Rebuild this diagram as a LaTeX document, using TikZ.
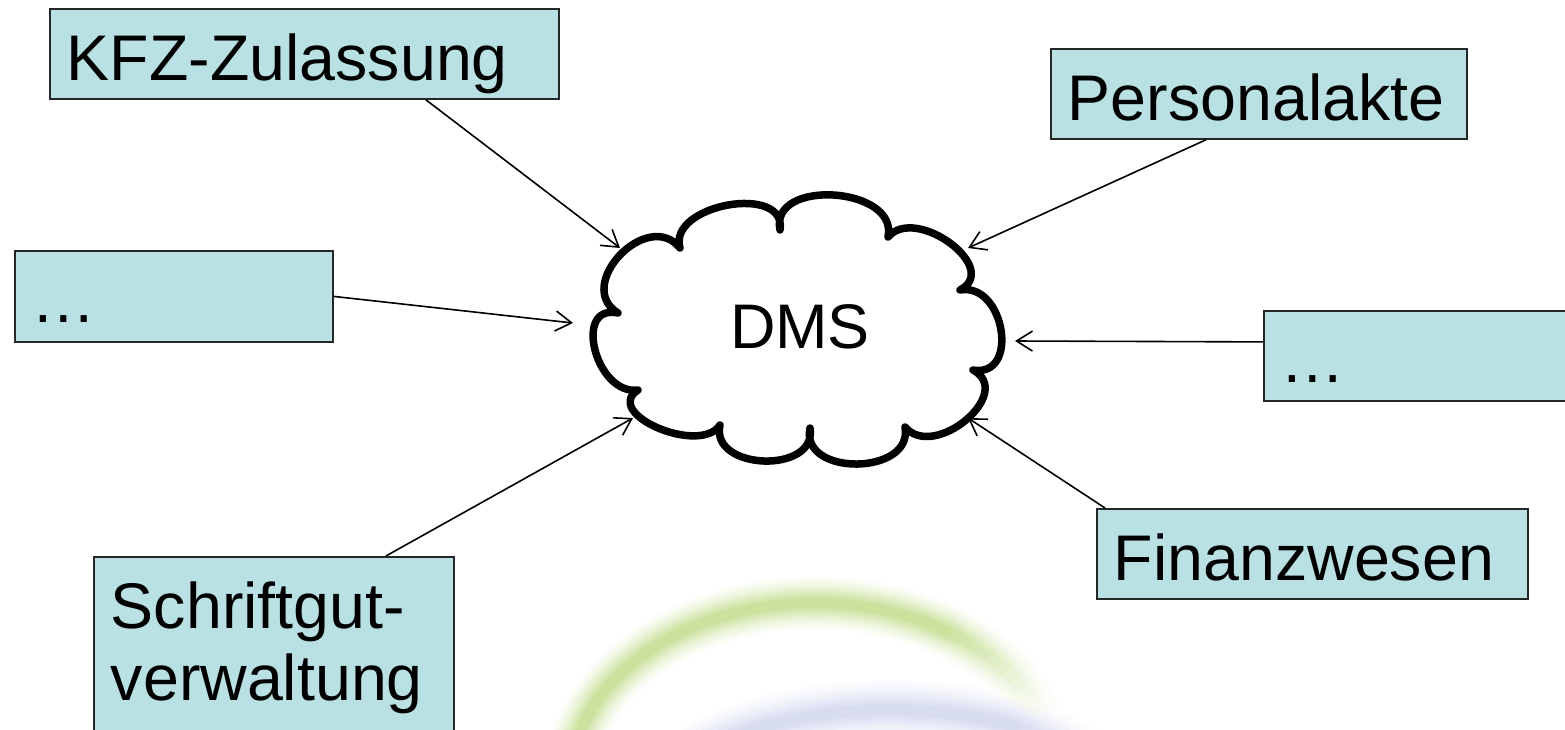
\documentclass[tikz,border=0pt]{standalone}
\usepackage{fontspec}
\setmainfont{Liberation Sans}
\usetikzlibrary{arrows.meta}
\definecolor{boxfill}{RGB}{185,224,227}
\definecolor{wmG}{RGB}{203,226,158}
\definecolor{wmB}{RGB}{216,220,240}
\begin{document}
\begin{tikzpicture}[x=1pt,y=-1pt,
  box/.style={draw=black!85, line width=1.8pt, fill=boxfill, anchor=north west,
    inner xsep=17pt, inner ysep=0pt, align=left,
    font=\fontsize{64.5}{72}\selectfont, text height=72pt, text depth=18pt},
  conn/.style={draw=black, line width=1.6pt, -{Straight Barb[length=16pt,width=20pt]}},
  cloudline/.style={draw=black, line width=7.5pt, line join=round, fill=white},
]
\useasboundingbox (0,0) rectangle (1565,729);
\clip (0,0) rectangle (1565,729);
\fill[white] (0,0) rectangle (1565,729);
% watermark (soft arcs)
\begin{scope}[blend mode=darken]
\foreach \w/\m in {60/8,53/16,46/27,39/40,32/55,25/70,18/86,11/100} {
  \foreach \a in {214,217,...,326} {
    \pgfmathtruncatemacro\f{\a>298 ? max(0,\m*(330-\a)/32) : \m}
    \ifnum\f>0
    \draw[line width=\w pt, wmB!\f!white] plot[domain=\a:\a+3.6, samples=3, smooth] ({890+250*cos(\x)},{832+122*sin(\x)});
    \fi
  }
}
\foreach \w/\m in {52/8,46/16,40/27,34/40,28/55,22/70,16/86,10/100} {
  \foreach \a in {186,189,...,340} {
    \pgfmathtruncatemacro\f{\a>300 ? max(0,\m*(338-\a)/38) : \m}
    \ifnum\f>0
    \draw[line width=\w pt, wmG!\f!white] plot[domain=\a:\a+3.6, samples=3, smooth] ({815+245*cos(\x)},{783+180*sin(\x)});
    \fi
  }
}
\end{scope}
% boxes
\node[box, text width=475pt] (kfz) at (49,8) {KFZ-Zulassung};
\node[box, text width=382pt] (pers) at (1050,48) {Personalakte};
\node[box, text width=284pt, text depth=19pt] (ldots) at (14,250) {…};
\node[box, text width=306pt] (rdots) at (1263,310) {…};
\node[box, text width=397pt] (fin) at (1096,508) {Finanzwesen};
\node[box, text width=326pt, text depth=128pt] (schr) at (93,556) {Schriftgut-\\verwaltung};
% cloud
\draw[cloudline]
 (618,313) .. controls (573.1,285.5) and (647.5,207.5) .. (680,248)
 .. controls (667.3,204.5) and (787.3,182.9) .. (780,230)
 .. controls (769.2,178) and (898.8,186.4) .. (888,237)
 .. controls (915.5,204.4) and (1001.9,268) .. (960,290)
 .. controls (1004.7,282) and (1020.3,378) .. (973,370)
 .. controls (1015.8,393) and (934.2,461.4) .. (905,427)
 .. controls (913.8,475.6) and (799.8,476.8) .. (810,428)
 .. controls (817.7,474.3) and (709.7,470.7) .. (720,425)
 .. controls (700.2,455.8) and (601.8,413.8) .. (638,390)
 .. controls (596,395.7) and (572,303.3) .. cycle;
\node[font=\fontsize{63}{71}\selectfont, anchor=base, inner sep=0pt] (dms) at (800,348) {DMS};
% arrow tips on the cloud
\coordinate (tK) at (620,248);
\coordinate (tP) at (968,248);
\coordinate (tL) at (573,323);
\coordinate (tR) at (1015,341);
\coordinate (tS) at (633,418);
\coordinate (tF) at (968,418);
% connectors
\draw[conn] ([xshift=121.5pt]kfz.south) -- (tK);
\draw[conn] ([xshift=-53pt]pers.south) -- (tP);
\draw[conn] (ldots.east) -- (tL);
\draw[conn] ([yshift=14pt]rdots.west) -- (tR);
\draw[conn] ([xshift=112pt]schr.north) -- (tS);
\draw[conn] ([xshift=9pt]fin.north west) -- (tF);
\end{tikzpicture}
\end{document}
